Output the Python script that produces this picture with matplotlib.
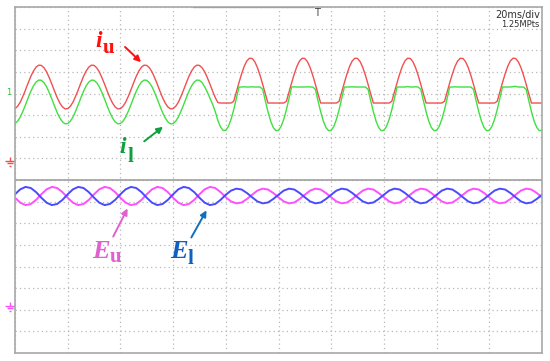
import numpy as np
import matplotlib.pyplot as plt
from matplotlib.path import Path

# =============================================================================
# Datos leidos de la captura del osciloscopio (20 ms/div, valores en divisiones
# de pantalla: 0-8 ventana inferior, 8-16 ventana superior)
# =============================================================================
t_i = np.arange(0, 200.5, 1)   # corrientes: una muestra cada 0.05 div
t_E = np.arange(0, 201, 2)     # tensiones: una muestra cada 0.1 div

i_u = [11.30, 11.41, 11.60, 11.87, 12.17, 12.49, 12.79, 13.04, 13.22, 13.31, 13.30, 13.19, 13.00, 12.73, 12.43, 12.11, 11.81, 11.56, 11.38, 11.29,
       11.30, 11.41, 11.60, 11.87, 12.17, 12.49, 12.79, 13.04, 13.22, 13.31, 13.30, 13.19, 13.00, 12.73, 12.43, 12.11, 11.81, 11.56, 11.38, 11.29,
       11.30, 11.41, 11.60, 11.87, 12.17, 12.49, 12.79, 13.04, 13.22, 13.31, 13.30, 13.19, 13.00, 12.73, 12.43, 12.11, 11.81, 11.56, 11.38, 11.29,
       11.30, 11.41, 11.60, 11.87, 12.17, 12.49, 12.79, 13.04, 13.22, 13.31, 13.30, 13.19, 13.00, 12.73, 12.43, 12.11, 11.81, 11.58, 11.56, 11.56,
       11.56, 11.56, 11.56, 11.64, 12.07, 12.50, 12.91, 13.26, 13.51, 13.63, 13.62, 13.47, 13.20, 12.84, 12.42, 11.98, 11.56, 11.56, 11.56, 11.56,
       11.56, 11.56, 11.56, 11.64, 12.07, 12.50, 12.91, 13.26, 13.51, 13.63, 13.62, 13.47, 13.20, 12.84, 12.42, 11.98, 11.56, 11.56, 11.56, 11.56,
       11.56, 11.56, 11.56, 11.64, 12.07, 12.50, 12.91, 13.26, 13.51, 13.63, 13.62, 13.47, 13.20, 12.84, 12.42, 11.98, 11.56, 11.56, 11.56, 11.56,
       11.56, 11.56, 11.56, 11.64, 12.07, 12.50, 12.91, 13.26, 13.51, 13.63, 13.62, 13.47, 13.20, 12.84, 12.42, 11.98, 11.56, 11.56, 11.56, 11.56,
       11.56, 11.56, 11.56, 11.64, 12.07, 12.50, 12.91, 13.26, 13.51, 13.63, 13.62, 13.47, 13.20, 12.84, 12.42, 11.98, 11.56, 11.56, 11.56, 11.56,
       11.56, 11.56, 11.56, 11.64, 12.07, 12.50, 12.91, 13.26, 13.51, 13.63, 13.62, 13.47, 13.20, 12.84, 12.42, 11.98, 11.56, 11.56, 11.56, 11.56,
       11.56]

i_l = [10.61, 10.72, 10.91, 11.18, 11.48, 11.80, 12.10, 12.35, 12.53, 12.62, 12.61, 12.50, 12.31, 12.04, 11.74, 11.42, 11.12, 10.87, 10.69, 10.60,
       10.61, 10.72, 10.91, 11.18, 11.48, 11.80, 12.10, 12.35, 12.53, 12.62, 12.61, 12.50, 12.31, 12.04, 11.74, 11.42, 11.12, 10.87, 10.69, 10.60,
       10.61, 10.72, 10.91, 11.18, 11.48, 11.80, 12.10, 12.35, 12.53, 12.62, 12.61, 12.50, 12.31, 12.04, 11.74, 11.42, 11.12, 10.87, 10.69, 10.60,
       10.61, 10.72, 10.91, 11.18, 11.48, 11.80, 12.10, 12.35, 12.53, 12.62, 12.61, 12.50, 12.31, 12.06, 11.78, 11.50, 11.16, 10.75, 10.45, 10.29,
       10.30, 10.48, 10.81, 11.25, 11.77, 12.30, 12.30, 12.31, 12.30, 12.30, 12.31, 12.30, 12.30, 12.30, 12.19, 11.66, 11.16, 10.73, 10.43, 10.28,
       10.30, 10.48, 10.81, 11.25, 11.77, 12.30, 12.31, 12.30, 12.30, 12.30, 12.30, 12.31, 12.30, 12.30, 12.19, 11.66, 11.16, 10.73, 10.43, 10.28,
       10.30, 10.48, 10.81, 11.25, 11.77, 12.30, 12.30, 12.30, 12.31, 12.30, 12.30, 12.30, 12.30, 12.30, 12.19, 11.66, 11.16, 10.73, 10.43, 10.28,
       10.30, 10.48, 10.81, 11.25, 11.77, 12.30, 12.30, 12.30, 12.30, 12.32, 12.30, 12.30, 12.31, 12.30, 12.19, 11.66, 11.16, 10.73, 10.43, 10.28,
       10.30, 10.48, 10.81, 11.25, 11.77, 12.30, 12.30, 12.31, 12.30, 12.30, 12.30, 12.30, 12.30, 12.30, 12.19, 11.66, 11.16, 10.73, 10.43, 10.28,
       10.30, 10.48, 10.81, 11.25, 11.77, 12.30, 12.30, 12.30, 12.30, 12.32, 12.33, 12.30, 12.30, 12.30, 12.19, 11.66, 11.16, 10.73, 10.43, 10.28,
       10.30]

E_l = [7.34, 7.57, 7.68, 7.63, 7.44, 7.18, 6.95, 6.84, 6.89, 7.08,
       7.34, 7.57, 7.68, 7.63, 7.44, 7.18, 6.95, 6.84, 6.89, 7.08,
       7.34, 7.57, 7.68, 7.63, 7.44, 7.18, 6.95, 6.84, 6.89, 7.08,
       7.34, 7.57, 7.68, 7.63, 7.44, 7.18, 6.95, 6.84, 6.89, 7.08,
       7.32, 7.51, 7.60, 7.56, 7.40, 7.20, 7.01, 6.92, 6.96, 7.12,
       7.32, 7.51, 7.60, 7.56, 7.40, 7.20, 7.01, 6.92, 6.96, 7.12,
       7.32, 7.51, 7.60, 7.56, 7.40, 7.20, 7.01, 6.92, 6.96, 7.12,
       7.32, 7.51, 7.60, 7.56, 7.40, 7.20, 7.01, 6.92, 6.96, 7.12,
       7.32, 7.51, 7.60, 7.56, 7.40, 7.20, 7.01, 6.92, 6.96, 7.12,
       7.32, 7.51, 7.60, 7.56, 7.40, 7.20, 7.01, 6.92, 6.96, 7.12,
       7.32]

E_u = [7.18, 6.95, 6.84, 6.89, 7.08, 7.34, 7.57, 7.68, 7.63, 7.44,
       7.18, 6.95, 6.84, 6.89, 7.08, 7.34, 7.57, 7.68, 7.63, 7.44,
       7.18, 6.95, 6.84, 6.89, 7.08, 7.34, 7.57, 7.68, 7.63, 7.44,
       7.18, 6.95, 6.84, 6.89, 7.08, 7.34, 7.57, 7.68, 7.63, 7.44,
       7.20, 7.01, 6.92, 6.96, 7.12, 7.32, 7.51, 7.60, 7.56, 7.40,
       7.20, 7.01, 6.92, 6.96, 7.12, 7.32, 7.51, 7.60, 7.56, 7.40,
       7.20, 7.01, 6.92, 6.96, 7.12, 7.32, 7.51, 7.60, 7.56, 7.40,
       7.20, 7.01, 6.92, 6.96, 7.12, 7.32, 7.51, 7.60, 7.56, 7.40,
       7.20, 7.01, 6.92, 6.96, 7.12, 7.32, 7.51, 7.60, 7.56, 7.40,
       7.20, 7.01, 6.92, 6.96, 7.12, 7.32, 7.51, 7.60, 7.56, 7.40,
       7.20]

# =============================================================================
# Pantalla del osciloscopio
# =============================================================================
fig = plt.figure(figsize=(5.5, 3.61), dpi=100)
ax = fig.add_axes([15/550, 8/361, 527/550, 346/361])
ax.set_xlim(0, 200)
ax.set_ylim(0, 16)
ax.set_xticks(np.arange(0, 201, 20))
ax.set_yticks(np.arange(0, 17, 1))
ax.tick_params(length=0, labelbottom=False, labelleft=False)
ax.grid(True, color='#b8b8b8', linestyle=(0, (1, 2.5)), linewidth=0.9)
for s in ax.spines.values():
    s.set_color('#a8a8a8')
    s.set_linewidth(1.2)
ax.axhline(8, color='#a0a0a0', lw=1.2)
ax.axhline(16, xmin=0.34, xmax=0.565, color='#808080', lw=1.6)

# trazas
ax.plot(t_i, i_u, color='#f05050', lw=1.0)
ax.plot(t_i, i_l, color='#40e040', lw=1.0)
ax.plot(t_E, E_u, color='#ff50ff', lw=1.4)
ax.plot(t_E, E_l, color='#4a4aff', lw=1.4)

# textos e indicadores del osciloscopio
ax.text(199.2, 15.49, '20ms/div', ha='right', va='baseline', fontsize=7, color='#303030')
ax.text(199.2, 15.08, '1.25MPts', ha='right', va='baseline', fontsize=6, color='#303030')
ax.text(114.6, 15.95, 'T', ha='center', va='top', fontsize=7, color='#404040')
ax.text(-2.2, 12.05, '1', ha='center', va='center', fontsize=6, color='#30c030', clip_on=False)

# simbolo de tierra (referencia de canal)
tierra = Path([(0, 1), (0, 0.2), (-1, 0.2), (1, 0.2), (-0.6, -0.3), (0.6, -0.3),
               (-0.25, -0.8), (0.25, -0.8)],
              [Path.MOVETO, Path.LINETO, Path.MOVETO, Path.LINETO,
               Path.MOVETO, Path.LINETO, Path.MOVETO, Path.LINETO])
ax.plot([-2.0], [8.83], marker=tierra, markersize=7, mew=1.0, color='#f05050',
        linestyle='none', clip_on=False)
ax.plot([-2.0], [2.13], marker=tierra, markersize=7, mew=1.0, color='#ff50ff',
        linestyle='none', clip_on=False)

# etiquetas con flechas
serif = 'Liberation Serif'
def etiqueta(x, y, letra, xs, ys, sub, color, size, subsize):
    ax.text(x, y, letra, fontsize=size, color=color, family=serif,
            weight='bold', style='italic', va='baseline')
    ax.text(xs, ys, sub, fontsize=subsize, color=color, family=serif,
            weight='bold', va='baseline')

etiqueta(30.4, 14.15, 'i', 33.4, 13.87, 'u', '#ff1010', 17, 15)
ax.annotate('', xy=(48.6, 13.36), xytext=(41.0, 14.24),
            arrowprops=dict(arrowstyle='-|>', color='#ff1010', lw=1.4, mutation_scale=9))
etiqueta(39.8, 9.25, 'i', 42.8, 8.83, 'l', '#10a040', 17, 15)
ax.annotate('', xy=(57.0, 10.54), xytext=(48.2, 9.71),
            arrowprops=dict(arrowstyle='-|>', color='#10a040', lw=1.4, mutation_scale=9))
etiqueta(29.2, 4.39, 'E', 36.0, 4.21, 'u', '#e060d0', 19, 15)
ax.annotate('', xy=(43.2, 6.80), xytext=(36.8, 5.27),
            arrowprops=dict(arrowstyle='-|>', color='#e060d0', lw=1.4, mutation_scale=9))
etiqueta(58.8, 4.39, 'E', 65.6, 4.12, 'l', '#1060c0', 19, 15)
ax.annotate('', xy=(73.2, 6.71), xytext=(66.4, 5.23),
            arrowprops=dict(arrowstyle='-|>', color='#1070c0', lw=1.4, mutation_scale=9))

plt.savefig('out.png', dpi=100)
